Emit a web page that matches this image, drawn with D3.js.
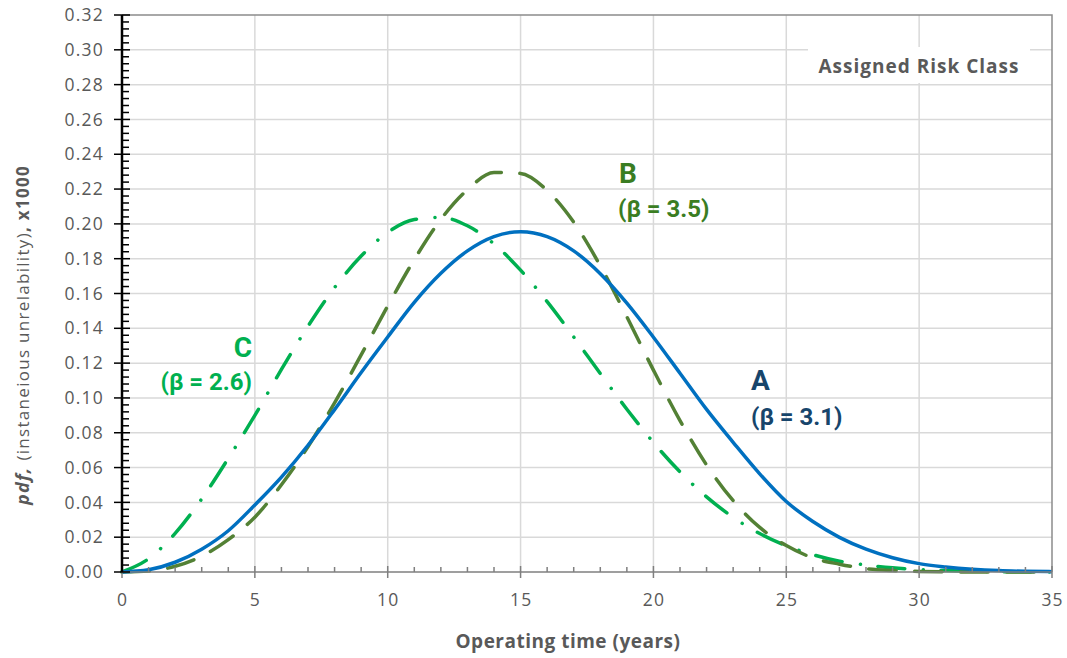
<!DOCTYPE html>
<html>
<head>
<meta charset="utf-8">
<script src="https://cdn.jsdelivr.net/npm/d3@7"></script>
<style>
  body { margin: 0; background: #fff; }
  svg { display: block; font-family: "Open Sans", sans-serif; }
  .tick-label { fill: #595959; font-size: 17.5px; letter-spacing: 1.2px; }
  .axis-title { fill: #595959; font-size: 19px; font-weight: bold; letter-spacing: 0.5px; }
  .curve-label { font-family: Roboto, Arial, sans-serif; font-weight: bold; }
</style>
</head>
<body>
<div id="chart"></div>
<script>
// operating time (years)
const years = [0, 1, 2, 3, 4, 5, 6, 7, 8, 9, 10, 11, 12, 13, 14, 15, 16, 17,
  18, 19, 20, 21, 22, 23, 24, 25, 26, 27, 28, 29, 30, 31, 32, 33, 34, 35];

// A (beta = 3.1)
const pdfA = [0, 0.0013, 0.0056, 0.0131, 0.0237, 0.0385, 0.0545, 0.0728, 0.0933,
  0.1146, 0.1350, 0.1549, 0.1716, 0.1845, 0.1927, 0.1955, 0.1927, 0.1845, 0.1714,
  0.1545, 0.1349, 0.1142, 0.0934, 0.0745, 0.0564, 0.0405, 0.0290, 0.0199, 0.0131,
  0.0082, 0.0048, 0.0029, 0.0016, 0.0008, 0.0004, 0.0002];

// B (beta = 3.5)
const pdfB = [0, 0.0006, 0.0033, 0.0091, 0.0186, 0.0315, 0.0501, 0.0720, 0.0972,
  0.1247, 0.1528, 0.1795, 0.2026, 0.2196, 0.2295, 0.2290, 0.2192, 0.2010, 0.1759,
  0.1466, 0.1160, 0.0870, 0.0615, 0.0410, 0.0256, 0.0152, 0.0081, 0.0045, 0.0019,
  0.0008, 0.0003, 0.0001, 0, 0, 0, 0];

// C (beta = 2.6)
const pdfC = [0, 0.0076, 0.0222, 0.0420, 0.0653, 0.0900, 0.1164, 0.1412, 0.1634,
  0.1815, 0.1951, 0.2025, 0.2037, 0.1989, 0.1885, 0.1734, 0.1553, 0.1350, 0.1140,
  0.0935, 0.0744, 0.0575, 0.0432, 0.0314, 0.0221, 0.0151, 0.0100, 0.0062, 0.0040,
  0.0024, 0.0014, 0.0008, 0.0004, 0.0002, 0.0001, 0];

const xTicks = [0, 5, 10, 15, 20, 25, 30, 35];
const yTicks = [0, 0.02, 0.04, 0.06, 0.08, 0.10, 0.12, 0.14, 0.16, 0.18, 0.20,
  0.22, 0.24, 0.26, 0.28, 0.30, 0.32];

const width = 1067;
const height = 658;
const margin = { top: 15, right: 15, bottom: 86, left: 122 };

const svg = d3.select("#chart").append("svg")
  .attr("width", width)
  .attr("height", height);

const x = d3.scaleLinear().domain([0, 35]).range([margin.left, width - margin.right]);
const y = d3.scaleLinear().domain([0, 0.32]).range([height - margin.bottom, margin.top]);

const x0 = x.range()[0], x1 = x.range()[1];
const y0 = y.range()[0], y1 = y.range()[1];

// gridlines
svg.append("g").selectAll("line").data(xTicks.slice(1, -1)).join("line")
  .attr("x1", d => x(d)).attr("x2", d => x(d))
  .attr("y1", y0).attr("y2", y1)
  .attr("stroke", "#d9d9d9").attr("stroke-width", 1.5);
svg.append("g").selectAll("line").data(yTicks.slice(1, -1)).join("line")
  .attr("x1", x0).attr("x2", x1)
  .attr("y1", d => y(d)).attr("y2", d => y(d))
  .attr("stroke", "#d9d9d9").attr("stroke-width", 1.5);

// top and right frame
svg.append("path")
  .attr("d", `M${x0},${y1}H${x1}V${y0}`)
  .attr("fill", "none").attr("stroke", "#8c8c8c").attr("stroke-width", 1.5);

// "Assigned Risk Class" box
svg.append("rect")
  .attr("x", 808).attr("y", 47).attr("width", 222).attr("height", 36)
  .attr("fill", "#fff");
svg.append("text")
  .attr("x", 919).attr("y", 73)
  .attr("text-anchor", "middle")
  .attr("class", "axis-title")
  .style("letter-spacing", "1px")
  .text("Assigned Risk Class");

// curves
const line = (vals) => d3.line()
  .x((d, i) => x(years[i]))
  .y(d => y(d))
  .curve(d3.curveMonotoneX)(vals);

svg.append("path").attr("d", line(pdfC))
  .attr("fill", "none").attr("stroke", "#00b050").attr("stroke-width", 3.5)
  .attr("stroke-linecap", "round")
  .attr("stroke-dasharray", "27,18.5,0.1,17.5");

svg.append("path").attr("d", line(pdfB))
  .attr("fill", "none").attr("stroke", "#538135").attr("stroke-width", 3.5)
  .attr("stroke-linecap", "round")
  .attr("stroke-dasharray", "27.5,18.5");

svg.append("path").attr("d", line(pdfA))
  .attr("fill", "none").attr("stroke", "#0070c0").attr("stroke-width", 3.5);

// x axis
const gx = svg.append("g");
gx.append("line")
  .attr("x1", x0).attr("x2", x1).attr("y1", y0).attr("y2", y0)
  .attr("stroke", "#7f7f7f").attr("stroke-width", 1.5);
gx.selectAll(".minor").data(years.filter(d => d % 5 !== 0)).join("line")
  .attr("x1", d => x(d)).attr("x2", d => x(d))
  .attr("y1", y0 - 5).attr("y2", y0)
  .attr("stroke", "#7f7f7f").attr("stroke-width", 1.5);
gx.selectAll(".major").data(xTicks).join("line")
  .attr("x1", d => x(d)).attr("x2", d => x(d))
  .attr("y1", y0 - 6).attr("y2", y0 + 6)
  .attr("stroke", "#7f7f7f").attr("stroke-width", 1.5);
gx.selectAll("text").data(xTicks).join("text")
  .attr("class", "tick-label")
  .attr("x", d => x(d) + 0.6).attr("y", y0 + 34)
  .attr("text-anchor", "middle")
  .text(d => d);

// y axis
const gy = svg.append("g");
const yMinor = d3.range(0, 81).map(i => i * 0.004).filter((d, i) => i % 5 !== 0);
gy.selectAll(".minor").data(yMinor).join("line")
  .attr("x1", x0).attr("x2", x0 + 7)
  .attr("y1", d => y(d)).attr("y2", d => y(d))
  .attr("stroke", "#000").attr("stroke-width", 1.5);
gy.selectAll(".major").data(yTicks).join("line")
  .attr("x1", x0 - 8).attr("x2", x0 + 8)
  .attr("y1", d => y(d)).attr("y2", d => y(d))
  .attr("stroke", "#000").attr("stroke-width", 1.5);
gy.append("line")
  .attr("x1", x0).attr("x2", x0).attr("y1", y0).attr("y2", y1)
  .attr("stroke", "#000").attr("stroke-width", 2.5);
gy.selectAll("text").data(yTicks).join("text")
  .attr("class", "tick-label")
  .attr("x", x0 - 18).attr("y", d => y(d))
  .attr("dy", "0.35em")
  .attr("text-anchor", "end")
  .text(d => d3.format(".2f")(d));

// axis titles
svg.append("text")
  .attr("class", "axis-title")
  .attr("x", 568).attr("y", 648)
  .attr("text-anchor", "middle")
  .text("Operating time (years)");

const yt = svg.append("text")
  .attr("transform", `translate(29,335) rotate(-90)`)
  .attr("text-anchor", "middle")
  .attr("fill", "#595959")
  .attr("font-size", 17)
  .style("letter-spacing", "1.3px");
yt.append("tspan").attr("font-weight", "bold").attr("font-style", "italic").attr("font-size", 18).text("pdf, ");
yt.append("tspan").text("(instaneious unrelability)");
yt.append("tspan").attr("font-weight", "bold").text(", x1000");

// curve labels
const labels = [
  { t: "C", x: 252, y: 357, c: "#00b050", s: 28, a: "end" },
  { t: "(β = 2.6)", x: 252, y: 390, c: "#00b050", s: 24, a: "end" },
  { t: "B", x: 619, y: 183, c: "#3a7d22", s: 28, a: "start" },
  { t: "(β = 3.5)", x: 618, y: 217, c: "#3a7d22", s: 24, a: "start" },
  { t: "A", x: 751, y: 390, c: "#17456b", s: 28, a: "start" },
  { t: "(β = 3.1)", x: 751, y: 425, c: "#17456b", s: 24, a: "start" },
];
svg.append("g").selectAll("text").data(labels).join("text")
  .attr("class", "curve-label")
  .attr("x", d => d.x).attr("y", d => d.y)
  .attr("text-anchor", d => d.a)
  .attr("fill", d => d.c)
  .attr("font-size", d => d.s)
  .text(d => d.t);
</script>
</body>
</html>
